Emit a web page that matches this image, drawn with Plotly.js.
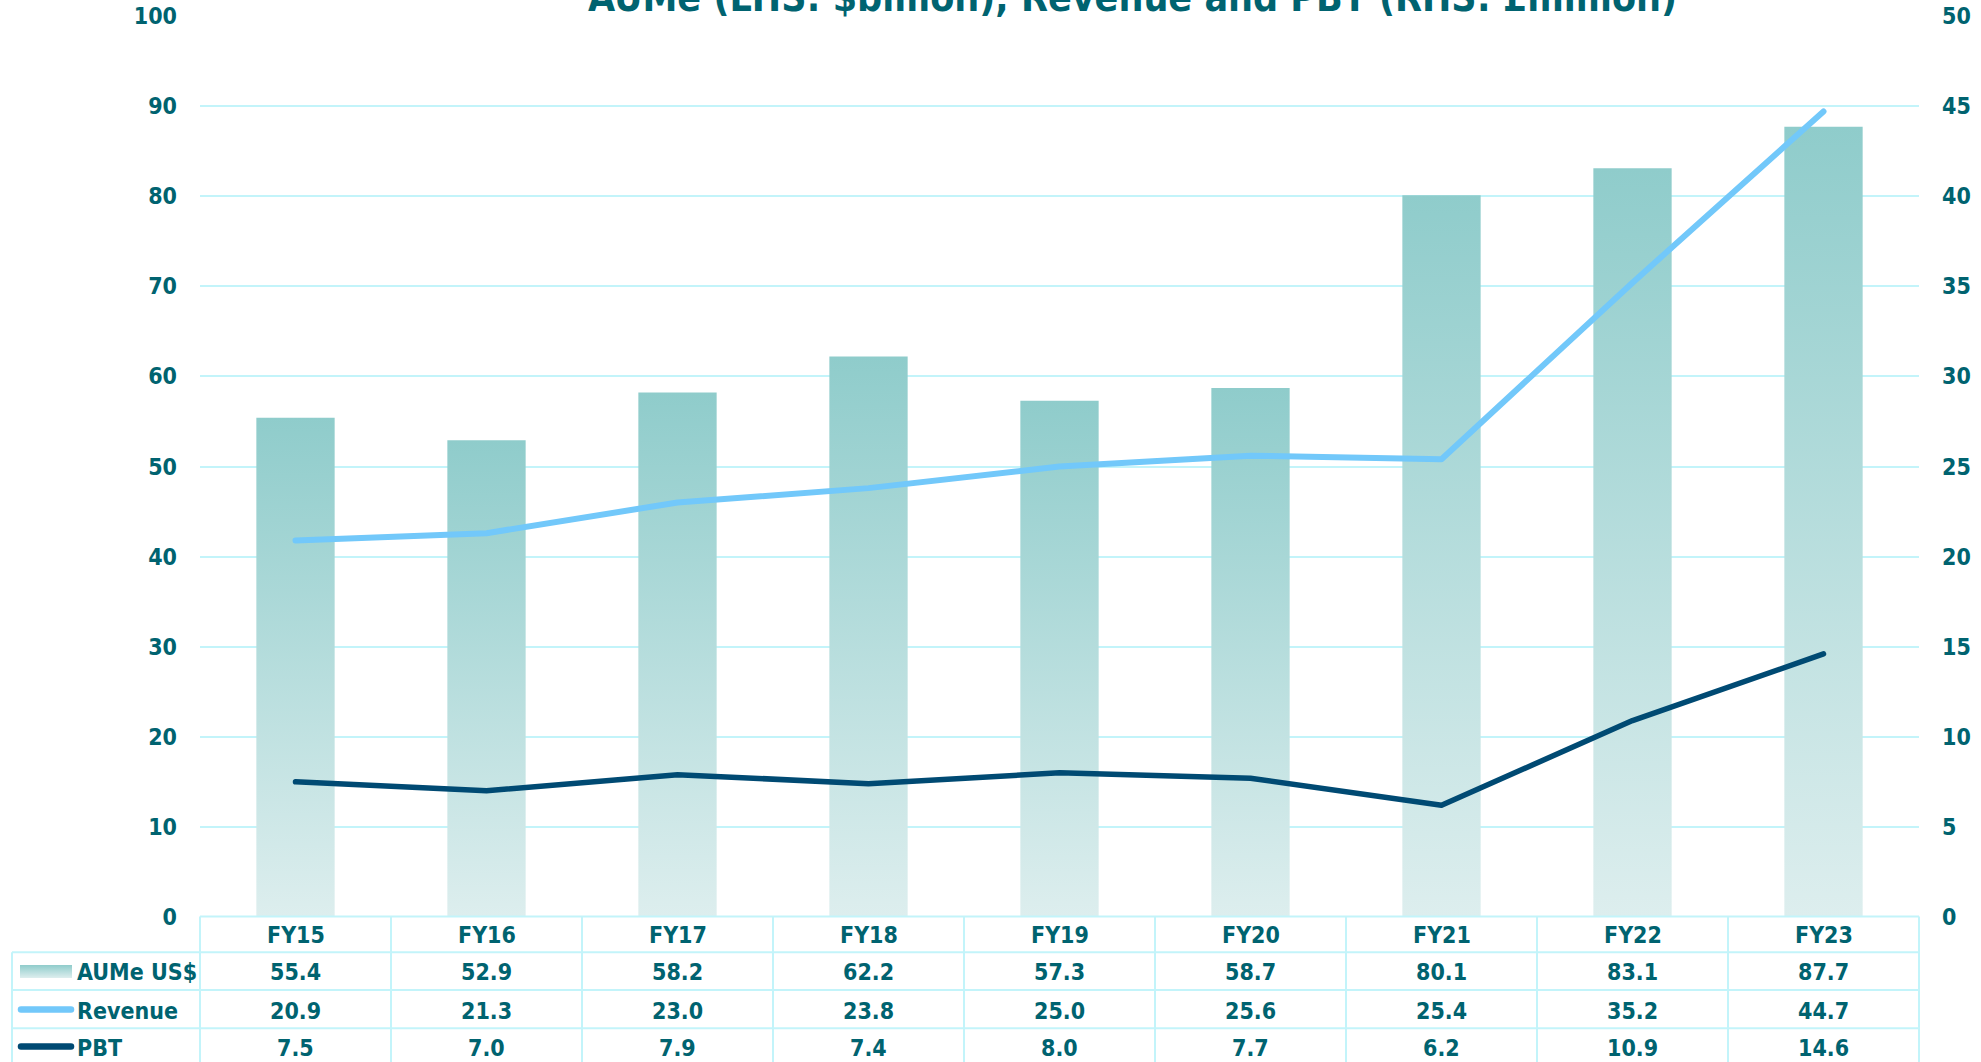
<!DOCTYPE html>
<html>
<head>
<meta charset="utf-8">
<script src="https://cdn.plot.ly/plotly-3.0.1.min.js"></script>
<style>
  html, body { margin: 0; padding: 0; background: #ffffff; }
  #chart { width: 1981px; height: 1062px; }
</style>
</head>
<body>
<div id="chart"></div>
<script>
// ---- Data ----
var categories = ['FY15', 'FY16', 'FY17', 'FY18', 'FY19', 'FY20', 'FY21', 'FY22', 'FY23'];
var aume = [55.4, 52.9, 58.2, 62.2, 57.3, 58.7, 80.1, 83.1, 87.7];
var revenue = [20.9, 21.3, 23.0, 23.8, 25.0, 25.6, 25.4, 35.2, 44.7];
var pbt = [7.5, 7.0, 7.9, 7.4, 8.0, 7.7, 6.2, 10.9, 14.6];
var seriesNames = ['AUMe US$', 'Revenue', 'PBT'];
var chartTitle = 'AUMe (LHS: $billion), Revenue and PBT (RHS: £million)';

// ---- Style ----
var FONT = "'DejaVu Sans Condensed', 'DejaVu Sans', sans-serif";
var TEXT = '#006370';
var GRID = '#c3f4fa';
var REV = '#72c8fa';
var PBTC = '#004a73';
var W = 1981, H = 1062;
var ML = 200, MR = 62, MT = 16, MB = 145;
var PW = W - ML - MR, PH = H - MT - MB;
function px2x(px) { return (px - ML) / PW; }
function px2y(py) { return (H - MB - py) / PH; }

var data = [
  {
    type: 'bar', name: seriesNames[0], x: categories, y: aume,
    width: 0.41, marker: { color: '#b6dcdc', line: { width: 0 } },
    showlegend: false, hoverinfo: 'skip'
  },
  {
    type: 'scatter', mode: 'lines', name: seriesNames[1], x: categories, y: revenue,
    yaxis: 'y2', line: { color: REV, width: 6 }, showlegend: false, hoverinfo: 'skip'
  },
  {
    type: 'scatter', mode: 'lines', name: seriesNames[2], x: categories, y: pbt,
    yaxis: 'y2', line: { color: PBTC, width: 5.5 }, showlegend: false, hoverinfo: 'skip'
  }
];

// ---- Table below the plot (shapes + annotations) ----
var shapes = [];
var annotations = [];
var nCol = categories.length;
var rowLinesPx = [916.5, 952.3, 990.1, 1028.3, 1066.5];
var labelLeft = px2x(12);
// horizontal lines
rowLinesPx.forEach(function (py, i) {
  shapes.push({ type: 'line', xref: 'paper', yref: 'paper',
    x0: i === 0 ? 0 : labelLeft, x1: 1, y0: px2y(py), y1: px2y(py),
    line: { color: GRID, width: 2 } });
});
// vertical lines
for (var k = 0; k <= nCol; k++) {
  shapes.push({ type: 'line', xref: 'paper', yref: 'paper',
    x0: k / nCol, x1: k / nCol, y0: px2y(rowLinesPx[0]), y1: px2y(1070),
    line: { color: GRID, width: 2 } });
}
shapes.push({ type: 'line', xref: 'paper', yref: 'paper',
  x0: labelLeft, x1: labelLeft, y0: px2y(rowLinesPx[1]), y1: px2y(1070),
  line: { color: GRID, width: 2 } });

// legend icons
var iconIndexStart = shapes.length;
shapes.push({ type: 'rect', xref: 'paper', yref: 'paper',
  x0: px2x(20), x1: px2x(72), y0: px2y(965), y1: px2y(978),
  fillcolor: '#b6dcdc', line: { width: 0 } });
shapes.push({ type: 'line', xref: 'paper', yref: 'paper',
  x0: px2x(21), x1: px2x(71), y0: px2y(1009.5), y1: px2y(1009.5),
  line: { color: REV, width: 6.5 } });
shapes.push({ type: 'line', xref: 'paper', yref: 'paper',
  x0: px2x(21), x1: px2x(71), y0: px2y(1046.5), y1: px2y(1046.5),
  line: { color: PBTC, width: 6.5 } });

var cellFont = { family: FONT, size: 23, color: TEXT, weight: 'bold' };
var rowCentersPx = [935, 972, 1010.5, 1048];
var rows = [aume, revenue, pbt];
categories.forEach(function (c, i) {
  annotations.push({ xref: 'x', yref: 'paper', x: c, y: px2y(rowCentersPx[0]),
    text: c, showarrow: false, xanchor: 'center', yanchor: 'middle', font: cellFont });
  rows.forEach(function (arr, r) {
    annotations.push({ xref: 'x', yref: 'paper', x: c, y: px2y(rowCentersPx[r + 1]),
      text: arr[i].toFixed(1), showarrow: false, xanchor: 'center', yanchor: 'middle', font: cellFont });
  });
});
seriesNames.forEach(function (n, r) {
  annotations.push({ xref: 'paper', yref: 'paper', x: px2x(75), y: px2y(rowCentersPx[r + 1]),
    text: n, showarrow: false, xanchor: 'left', yanchor: 'middle', font: cellFont });
});
// title (partly above the canvas, as in the reference)
annotations.push({ xref: 'paper', yref: 'paper', x: px2x(1132), y: px2y(-2),
  text: chartTitle, showarrow: false, xanchor: 'center', yanchor: 'middle',
  font: { family: FONT, size: 39, color: TEXT, weight: 'bold' } });

var tickFont = { family: FONT, size: 23, color: TEXT, weight: 'bold' };
var layout = {
  width: W, height: H,
  margin: { l: ML, r: MR, t: MT, b: MB, pad: 0 },
  paper_bgcolor: '#ffffff', plot_bgcolor: '#ffffff',
  showlegend: false,
  bargap: 0.59,
  xaxis: {
    type: 'category', categoryorder: 'array', categoryarray: categories,
    range: [-0.5, nCol - 0.5], showticklabels: false, showgrid: false,
    zeroline: false, showline: false, ticks: ''
  },
  yaxis: {
    range: [0, 100], dtick: 10, tick0: 0, showgrid: true, gridcolor: GRID, gridwidth: 2,
    zeroline: false, showline: false, ticks: '', tickfont: tickFont, ticklabelstandoff: 22
  },
  yaxis2: {
    overlaying: 'y', side: 'right', range: [0, 50], dtick: 5, tick0: 0,
    showgrid: false, zeroline: false, showline: false, ticks: '', tickfont: tickFont,
    ticklabelstandoff: 22
  },
  shapes: shapes,
  annotations: annotations
};

var gd = document.getElementById('chart');
Plotly.newPlot(gd, data, layout, { staticPlot: true, displayModeBar: false }).then(function () {
  var ns = 'http://www.w3.org/2000/svg';
  var svg = gd.querySelector('.main-svg');
  var defs = svg.querySelector('defs') || svg.insertBefore(document.createElementNS(ns, 'defs'), svg.firstChild);
  var lg = document.createElementNS(ns, 'linearGradient');
  lg.setAttribute('id', 'aumeGrad');
  lg.setAttribute('x1', '0'); lg.setAttribute('y1', '0');
  lg.setAttribute('x2', '0'); lg.setAttribute('y2', '1');
  [['0', '#8fcccb'], ['1', '#ddeeee']].forEach(function (s) {
    var st = document.createElementNS(ns, 'stop');
    st.setAttribute('offset', s[0]); st.setAttribute('stop-color', s[1]);
    lg.appendChild(st);
  });
  defs.appendChild(lg);
  gd.querySelectorAll('.barlayer .point path').forEach(function (p) {
    p.style.fill = 'url(#aumeGrad)';
  });
  gd.querySelectorAll('.scatterlayer .js-line').forEach(function (p) {
    p.style.strokeLinecap = 'round'; p.style.strokeLinejoin = 'round';
  });
  var sp = gd.querySelectorAll('.shapelayer path');
  sp.forEach(function (p) {
    var idx = +p.getAttribute('data-index');
    if (idx === iconIndexStart) p.style.fill = 'url(#aumeGrad)';
    if (idx === iconIndexStart + 1 || idx === iconIndexStart + 2) p.style.strokeLinecap = 'round';
  });
});
</script>
</body>
</html>
